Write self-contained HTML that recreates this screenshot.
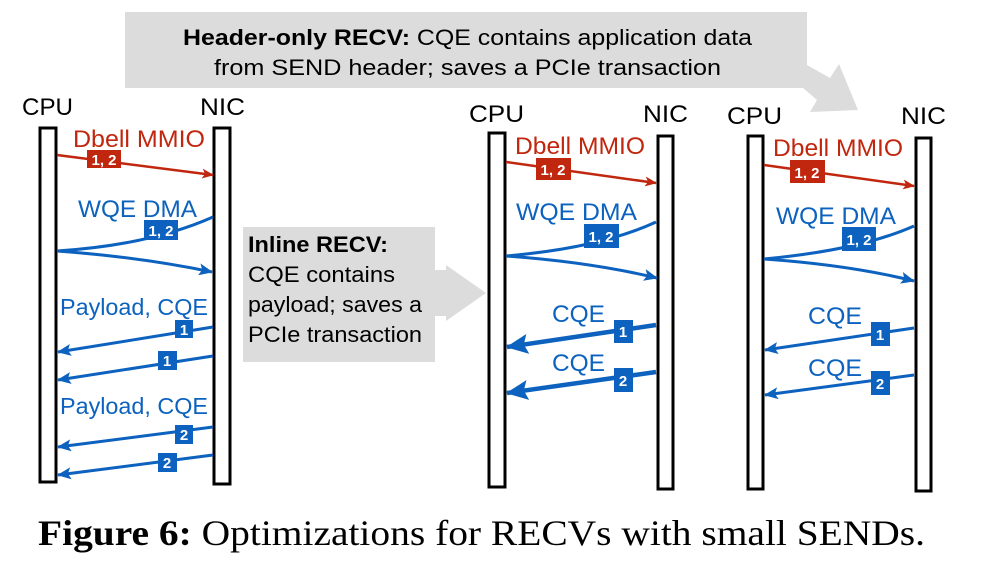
<!DOCTYPE html>
<html><head><meta charset="utf-8"><style>
html,body{margin:0;padding:0;background:#fff;}
svg{display:block;}
text{font-family:"Liberation Sans",Arial,sans-serif;}
</style></head><body>
<svg width="990" height="561" viewBox="0 0 990 561" xmlns="http://www.w3.org/2000/svg">
<defs>
<marker id="ar" markerUnits="userSpaceOnUse" markerWidth="12" markerHeight="10" refX="11" refY="5" orient="auto"><path d="M0,0 L12,5 L0,10 L3,5 Z" fill="#c1270e"/></marker>
<marker id="ab" markerUnits="userSpaceOnUse" markerWidth="14" markerHeight="12" refX="13" refY="6" orient="auto"><path d="M0,0 L14,6 L0,12 L3,6 Z" fill="#0c62be"/></marker>
<marker id="abb" markerUnits="userSpaceOnUse" markerWidth="22" markerHeight="20" refX="21" refY="10" orient="auto"><path d="M0,0 L22,10 L0,20 L4,10 Z" fill="#0c62be"/></marker>
</defs>

<polygon points="125,12 807,12 807,65 830,78 839,64 858,110 810,112 817,100 803,88 125,88" fill="#dcdcdd"/>
<text x="183" y="45" font-size="22" textLength="569" lengthAdjust="spacingAndGlyphs"><tspan font-weight="bold">Header-only RECV:</tspan> CQE contains application data</text>
<text x="214" y="75" font-size="22" textLength="507" lengthAdjust="spacingAndGlyphs">from SEND header; saves a PCIe transaction</text>

<polygon points="243,227 435,227 435,270 446,270 446,265 486,293 446,321 446,316 435,316 435,362 243,362" fill="#dcdcdd"/>
<text x="248" y="252" font-size="22" font-weight="bold" textLength="140" lengthAdjust="spacingAndGlyphs">Inline RECV:</text>
<text x="248" y="282" font-size="22" textLength="147" lengthAdjust="spacingAndGlyphs">CQE contains</text>
<text x="248" y="312" font-size="22" textLength="174" lengthAdjust="spacingAndGlyphs">payload; saves a</text>
<text x="248" y="342" font-size="22" textLength="174" lengthAdjust="spacingAndGlyphs">PCIe transaction</text>

<!-- Panel 1 -->
<text x="22" y="115" font-size="24" textLength="51" lengthAdjust="spacingAndGlyphs">CPU</text>
<text x="200" y="115" font-size="24" textLength="45" lengthAdjust="spacingAndGlyphs">NIC</text>
<rect x="40" y="128" width="16" height="354" fill="#fff" stroke="#000" stroke-width="3"/>
<rect x="214" y="128" width="16" height="356" fill="#fff" stroke="#000" stroke-width="3"/>
<text x="73" y="147" font-size="24" fill="#c1270e" textLength="132" lengthAdjust="spacingAndGlyphs">Dbell MMIO</text>
<line x1="57" y1="155" x2="213" y2="175" stroke="#c1270e" stroke-width="2.5" marker-end="url(#ar)"/>
<rect x="87" y="150" width="34" height="18" fill="#c1270e"/><text x="104" y="165" font-size="15" font-weight="bold" fill="#fff" text-anchor="middle">1, 2</text>
<text x="78" y="217" font-size="24" fill="#0c62be" textLength="119" lengthAdjust="spacingAndGlyphs">WQE DMA</text>
<path d="M57,251 Q150,245 213,217" fill="none" stroke="#0c62be" stroke-width="3"/>
<path d="M57,251 Q140,257 212,272" fill="none" stroke="#0c62be" stroke-width="3" marker-end="url(#ab)"/>
<rect x="144" y="220" width="34" height="20" fill="#0c62be"/><text x="161" y="236" font-size="15" font-weight="bold" fill="#fff" text-anchor="middle">1, 2</text>
<text x="60" y="315" font-size="23" fill="#0c62be" textLength="148" lengthAdjust="spacingAndGlyphs">Payload, CQE</text>
<line x1="213" y1="327" x2="58" y2="352" stroke="#0c62be" stroke-width="3" marker-end="url(#ab)"/>
<rect x="175" y="320" width="18" height="18" fill="#0c62be"/><text x="184" y="335" font-size="15" font-weight="bold" fill="#fff" text-anchor="middle">1</text>
<line x1="213" y1="356" x2="58" y2="380" stroke="#0c62be" stroke-width="3" marker-end="url(#ab)"/>
<rect x="158" y="351" width="19" height="19" fill="#0c62be"/><text x="167" y="366" font-size="15" font-weight="bold" fill="#fff" text-anchor="middle">1</text>
<text x="60" y="414" font-size="23" fill="#0c62be" textLength="148" lengthAdjust="spacingAndGlyphs">Payload, CQE</text>
<line x1="213" y1="427" x2="58" y2="447" stroke="#0c62be" stroke-width="3" marker-end="url(#ab)"/>
<rect x="175" y="425" width="18" height="19" fill="#0c62be"/><text x="184" y="440" font-size="15" font-weight="bold" fill="#fff" text-anchor="middle">2</text>
<line x1="213" y1="455" x2="58" y2="475" stroke="#0c62be" stroke-width="3" marker-end="url(#ab)"/>
<rect x="158" y="453" width="19" height="19" fill="#0c62be"/><text x="167" y="468" font-size="15" font-weight="bold" fill="#fff" text-anchor="middle">2</text>

<!-- Panel 2 -->
<text x="469" y="122" font-size="24" textLength="55" lengthAdjust="spacingAndGlyphs">CPU</text>
<text x="643" y="122" font-size="24" textLength="45" lengthAdjust="spacingAndGlyphs">NIC</text>
<rect x="489" y="133" width="16" height="354" fill="#fff" stroke="#000" stroke-width="3"/>
<rect x="658" y="136" width="15" height="353" fill="#fff" stroke="#000" stroke-width="3"/>
<text x="515" y="154" font-size="24" fill="#c1270e" textLength="130" lengthAdjust="spacingAndGlyphs">Dbell MMIO</text>
<line x1="506" y1="162" x2="656" y2="183" stroke="#c1270e" stroke-width="2.5" marker-end="url(#ar)"/>
<rect x="536" y="158" width="35" height="22" fill="#c1270e"/><text x="553" y="175" font-size="15" font-weight="bold" fill="#fff" text-anchor="middle">1, 2</text>
<text x="516" y="220" font-size="24" fill="#0c62be" textLength="121" lengthAdjust="spacingAndGlyphs">WQE DMA</text>
<path d="M506,256 Q600,248 656,222" fill="none" stroke="#0c62be" stroke-width="3"/>
<path d="M506,256 Q590,262 657,278" fill="none" stroke="#0c62be" stroke-width="3" marker-end="url(#ab)"/>
<rect x="584" y="224" width="35" height="24" fill="#0c62be"/><text x="601" y="242" font-size="15" font-weight="bold" fill="#fff" text-anchor="middle">1, 2</text>
<text x="552" y="322" font-size="24" fill="#0c62be" textLength="53" lengthAdjust="spacingAndGlyphs">CQE</text>
<line x1="656" y1="325" x2="507" y2="347" stroke="#0c62be" stroke-width="4.5" marker-end="url(#abb)"/>
<rect x="614" y="320" width="19" height="23" fill="#0c62be"/><text x="623" y="337" font-size="15" font-weight="bold" fill="#fff" text-anchor="middle">1</text>
<text x="552" y="371" font-size="24" fill="#0c62be" textLength="53" lengthAdjust="spacingAndGlyphs">CQE</text>
<line x1="656" y1="372" x2="507" y2="393" stroke="#0c62be" stroke-width="4.5" marker-end="url(#abb)"/>
<rect x="614" y="368" width="19" height="24" fill="#0c62be"/><text x="623" y="386" font-size="15" font-weight="bold" fill="#fff" text-anchor="middle">2</text>

<!-- Panel 3 -->
<text x="727" y="124" font-size="24" textLength="55" lengthAdjust="spacingAndGlyphs">CPU</text>
<text x="901" y="124" font-size="24" textLength="45" lengthAdjust="spacingAndGlyphs">NIC</text>
<rect x="748" y="136" width="15" height="353" fill="#fff" stroke="#000" stroke-width="3"/>
<rect x="916" y="138" width="15" height="353" fill="#fff" stroke="#000" stroke-width="3"/>
<text x="773" y="156" font-size="24" fill="#c1270e" textLength="130" lengthAdjust="spacingAndGlyphs">Dbell MMIO</text>
<line x1="764" y1="165" x2="914" y2="186" stroke="#c1270e" stroke-width="2.5" marker-end="url(#ar)"/>
<rect x="790" y="160" width="35" height="23" fill="#c1270e"/><text x="807" y="178" font-size="15" font-weight="bold" fill="#fff" text-anchor="middle">1, 2</text>
<text x="776" y="224" font-size="24" fill="#0c62be" textLength="120" lengthAdjust="spacingAndGlyphs">WQE DMA</text>
<path d="M764,259 Q860,250 914,226" fill="none" stroke="#0c62be" stroke-width="3"/>
<path d="M764,259 Q850,265 914,281" fill="none" stroke="#0c62be" stroke-width="3" marker-end="url(#ab)"/>
<rect x="842" y="227" width="34" height="24" fill="#0c62be"/><text x="859" y="245" font-size="15" font-weight="bold" fill="#fff" text-anchor="middle">1, 2</text>
<text x="808" y="324" font-size="24" fill="#0c62be" textLength="54" lengthAdjust="spacingAndGlyphs">CQE</text>
<line x1="914" y1="328" x2="765" y2="350" stroke="#0c62be" stroke-width="3" marker-end="url(#ab)"/>
<rect x="871" y="322" width="19" height="24" fill="#0c62be"/><text x="880" y="340" font-size="15" font-weight="bold" fill="#fff" text-anchor="middle">1</text>
<text x="808" y="376" font-size="24" fill="#0c62be" textLength="54" lengthAdjust="spacingAndGlyphs">CQE</text>
<line x1="914" y1="375" x2="765" y2="395" stroke="#0c62be" stroke-width="3" marker-end="url(#ab)"/>
<rect x="871" y="371" width="19" height="24" fill="#0c62be"/><text x="880" y="389" font-size="15" font-weight="bold" fill="#fff" text-anchor="middle">2</text>

<text x="38" y="545" font-size="36" textLength="887" lengthAdjust="spacingAndGlyphs" style="font-family:'Liberation Serif','Times New Roman',serif"><tspan font-weight="bold">Figure 6:</tspan> Optimizations for RECVs with small SENDs.</text>
</svg>
</body></html>
